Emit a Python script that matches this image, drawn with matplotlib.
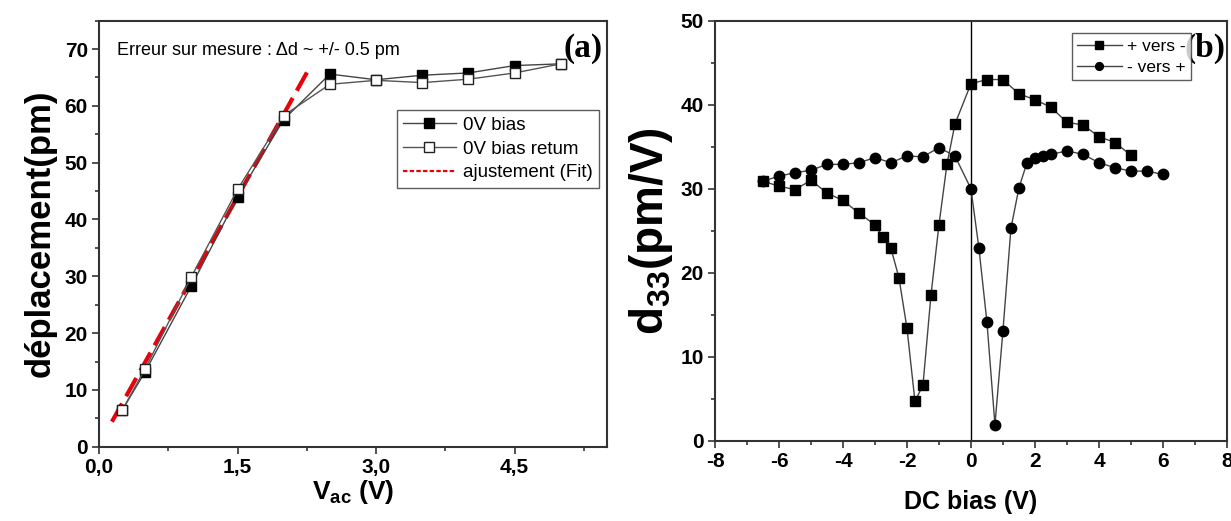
import matplotlib
matplotlib.use("Agg")
import matplotlib.pyplot as plt
from matplotlib.lines import Line2D
from matplotlib.ticker import MultipleLocator, FuncFormatter

# panel (a): displacement vs AC voltage
vac = [0.25, 0.5, 1.0, 1.5, 2.0, 2.5, 3.0, 3.5, 4.0, 4.5, 5.0]
disp_bias = [6.4, 13.2, 28.3, 44.0, 57.6, 65.6, 64.6, 65.4, 65.8, 67.1, 67.4]
disp_return = [6.4, 13.7, 29.9, 45.3, 58.3, 63.8, 64.5, 64.1, 64.7, 65.8, 67.4]
fit_x = [0.14, 2.29]
fit_y = [4.4, 67.0]

# panel (b): d33 vs DC bias
dc_down = [-6.5, -6.0, -5.5, -5.0, -4.5, -4.0, -3.5, -3.0, -2.75, -2.5, -2.25,
           -2.0, -1.75, -1.5, -1.25, -1.0, -0.75, -0.5, 0.0, 0.5, 1.0, 1.5,
           2.0, 2.5, 3.0, 3.5, 4.0, 4.5, 5.0]
d33_down = [30.9, 30.3, 29.9, 31.0, 29.5, 28.6, 27.1, 25.7, 24.2, 22.9, 19.4,
            13.4, 4.7, 6.6, 17.3, 25.7, 32.9, 37.7, 42.5, 43.0, 43.0, 41.3,
            40.6, 39.7, 37.9, 37.6, 36.2, 35.5, 34.0]
dc_up = [-6.5, -6.0, -5.5, -5.0, -4.5, -4.0, -3.5, -3.0, -2.5, -2.0, -1.5,
         -1.0, -0.5, 0.0, 0.25, 0.5, 0.75, 1.0, 1.25, 1.5, 1.75, 2.0, 2.25,
         2.5, 3.0, 3.5, 4.0, 4.5, 5.0, 5.5, 6.0]
d33_up = [30.9, 31.5, 31.9, 32.2, 32.9, 32.9, 33.1, 33.7, 33.1, 33.9, 33.8,
          34.9, 33.9, 30.0, 22.9, 14.1, 1.9, 13.1, 25.3, 30.1, 33.1, 33.6,
          33.9, 34.1, 34.5, 34.1, 33.1, 32.5, 32.1, 32.1, 31.7]

SANS = ["Liberation Sans", "DejaVu Sans"]
SERIF = ["Liberation Serif", "DejaVu Serif"]
plt.rcParams["font.family"] = SANS
plt.rcParams["axes.unicode_minus"] = False
plt.rcParams["axes.linewidth"] = 1.5
plt.rcParams["axes.edgecolor"] = "#333333"


def style_axes(ax):
    ax.tick_params(which="both", direction="out", color="#333333", width=1.2)
    ax.tick_params(which="major", length=5, labelsize=15, pad=3)
    ax.tick_params(which="minor", length=3)
    for lab in ax.get_xticklabels() + ax.get_yticklabels():
        lab.set_fontweight("bold")


fig = plt.figure(figsize=(12.31, 5.21), dpi=100)

# ---- (a) ----
ax1 = fig.add_axes([0.0804, 0.1426, 0.4127, 0.8177])
ax1.plot(vac, disp_bias, color="#444444", lw=1.0, marker="s", ms=7.5,
         mfc="black", mec="black", zorder=3)
ax1.plot(vac, disp_return, color="#555555", lw=1.0, marker="s", ms=7.5,
         mfc="white", mec="#222222", mew=1.0, zorder=4)
ax1.plot(fit_x, fit_y, color="#e8000b", lw=3, dashes=(5, 2), zorder=2)
ax1.set_xlim(0, 5.5)
ax1.set_ylim(0, 75)
ax1.xaxis.set_major_locator(MultipleLocator(1.5))
ax1.xaxis.set_minor_locator(MultipleLocator(0.75))
ax1.yaxis.set_major_locator(MultipleLocator(10))
ax1.yaxis.set_minor_locator(MultipleLocator(5))
ax1.xaxis.set_major_formatter(FuncFormatter(lambda v, _: f"{v:.1f}".replace(".", ",")))
style_axes(ax1)
ax1.set_xlabel("V$_{\\mathregular{ac}}$ (V)", fontsize=19, fontweight="bold", labelpad=1)
ax1.set_ylabel("déplacement(pm)", fontsize=25, fontweight="bold", labelpad=6)
ax1.text(0.035, 0.93, "Erreur sur mesure : \u0394d ~ +/- 0.5 pm", transform=ax1.transAxes,
         fontsize=13, va="center", ha="left")
ax1.text(0.992, 0.935, "(a)", transform=ax1.transAxes, fontsize=24,
         fontweight="bold", family=SERIF, va="center", ha="right")
handles1 = [
    Line2D([], [], color="#444444", lw=1.0, marker="s", ms=7, mfc="black", mec="black"),
    Line2D([], [], color="#555555", lw=1.0, marker="s", ms=7, mfc="white", mec="#222222"),
    Line2D([], [], color="#e8000b", lw=1.6, dashes=(2, 1)),
]
leg1 = ax1.legend(handles1, ["0V bias", "0V bias retum", "ajustement (Fit)"],
                  loc="upper right", bbox_to_anchor=(0.985, 0.79), fontsize=13.5,
                  frameon=True, fancybox=False, edgecolor="#333333",
                  handlelength=2.8, handletextpad=0.4, borderpad=0.35,
                  labelspacing=0.35, borderaxespad=0)
leg1.get_frame().set_linewidth(1.0)

# ---- (b) ----
ax2 = fig.add_axes([0.5808, 0.1541, 0.4159, 0.8061])
ax2.axvline(0, color="black", lw=1.0, zorder=1)
ax2.plot(dc_down, d33_down, color="#444444", lw=1.0, marker="s", ms=7.5,
         mfc="black", mec="black", label="+ vers -", zorder=3)
ax2.plot(dc_up, d33_up, color="#444444", lw=1.0, marker="o", ms=7.5,
         mfc="black", mec="black", label="- vers +", zorder=3)
ax2.set_xlim(-8, 8)
ax2.set_ylim(0, 50)
ax2.xaxis.set_major_locator(MultipleLocator(2))
ax2.xaxis.set_minor_locator(MultipleLocator(1))
ax2.yaxis.set_major_locator(MultipleLocator(10))
ax2.yaxis.set_minor_locator(MultipleLocator(5))
style_axes(ax2)
ax2.set_xlabel("DC bias (V)", fontsize=18, fontweight="bold", labelpad=14)
ax2.set_ylabel("d$_{\\mathregular{33}}$(pm/V)", fontsize=33, fontweight="bold", labelpad=4)
ax2.text(0.998, 0.935, "(b)", transform=ax2.transAxes, fontsize=24,
         fontweight="bold", family=SERIF, va="center", ha="right")
leg2 = ax2.legend(loc="upper right", bbox_to_anchor=(0.93, 0.97), fontsize=12.5,
                  frameon=True, fancybox=False, edgecolor="#333333",
                  handlelength=2.6, handletextpad=0.3, borderpad=0.3,
                  labelspacing=0.35, borderaxespad=0, markerscale=0.75)
leg2.get_frame().set_linewidth(1.0)

fig.savefig("out.png", dpi=100)
